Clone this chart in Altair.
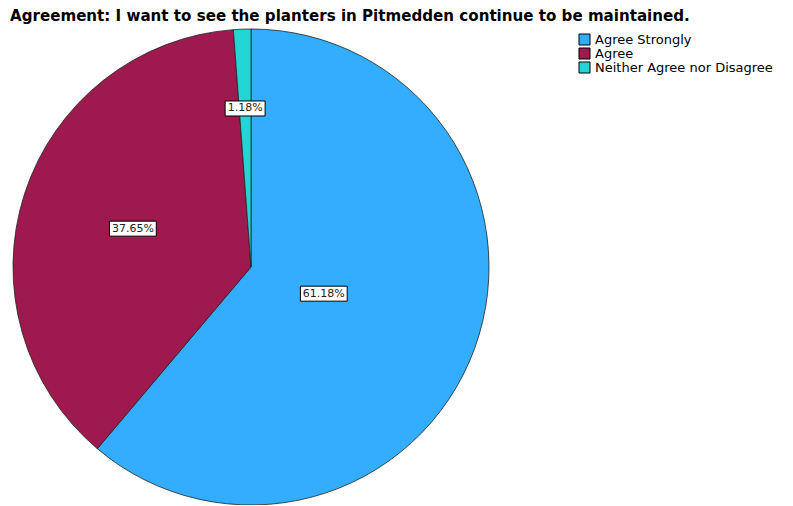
import altair as alt
import pandas as pd
import numpy as np

# ---- data ----
categories = ["Agree Strongly", "Agree", "Neither Agree nor Disagree"]
percents = [61.18, 37.65, 1.18]
labels = ["61.18%", "37.65%", "1.18%"]
colors = ["#33adff", "#9e194d", "#23d5d5"]
title_text = "Agreement: I want to see the planters in Pitmedden continue to be maintained."

# ---- layout constants ----
W, H = 777, 497
CX, CY, R = 243, 259, 238
FONT = "DejaVu Sans"

df = pd.DataFrame({"category": categories, "pct": percents, "label": labels,
                   "order": list(range(len(categories)))})
total = df["pct"].sum()
cum = df["pct"].cumsum()
mid = 2 * np.pi * (cum - df["pct"] / 2) / total
half = np.pi * df["pct"] / total
rr = 2.0 / 3.0 * R * np.sin(half) / half  # sector centroid distance
df["lx"] = CX + rr * np.sin(mid)
df["ly"] = CY - rr * np.cos(mid)
hw = df["label"].str.len() * 3.4 + 3
df["bx1"] = df["lx"] - hw
df["bx2"] = df["lx"] + hw
df["by1"] = df["ly"] - 7.5
df["by2"] = df["ly"] + 7.5

xs = alt.Scale(domain=[0, W], range=[0, W], nice=False, zero=False)
ys = alt.Scale(domain=[0, H], range=[0, H], nice=False, zero=False)

base = alt.Chart(df)

pie = base.mark_arc(outerRadius=R, stroke="#222222", strokeWidth=0.8).encode(
    theta=alt.Theta("pct:Q", stack=True),
    color=alt.Color(
        "category:N",
        scale=alt.Scale(domain=categories, range=colors),
        sort=categories,
        legend=alt.Legend(
            title=None, orient="none", legendX=570, legendY=25,
            symbolType="square", symbolSize=121, symbolStrokeColor="#000000",
            symbolStrokeWidth=1, symbolOpacity=1,
            labelFont=FONT, labelFontSize=13, labelColor="#000000",
            labelLimit=400, rowPadding=-2.5, labelOffset=4,
        ),
    ),
    order=alt.Order("order:Q"),
    x=alt.value(CX),
    y=alt.value(CY),
)

boxes = base.mark_rect(fill="white", stroke="black", strokeWidth=1).encode(
    x=alt.X("bx1:Q", scale=xs, axis=None),
    x2="bx2:Q",
    y=alt.Y("by1:Q", scale=ys, axis=None),
    y2="by2:Q",
)

texts = base.mark_text(font=FONT, fontSize=11, color="#222222", align="center",
                       baseline="middle").encode(
    x=alt.X("lx:Q", scale=xs, axis=None),
    y=alt.Y("ly:Q", scale=ys, axis=None),
    text="label:N",
)

title = alt.Chart(pd.DataFrame({"t": [title_text]})).mark_text(
    align="left", baseline="alphabetic", font=FONT, fontWeight="bold",
    fontSize=15.1, color="#000000"
).encode(x=alt.value(2), y=alt.value(13), text="t:N")

chart = alt.layer(pie, boxes, texts, title).properties(
    width=W, height=H, autosize=alt.AutoSizeParams(type="none"), padding=0
).configure_view(stroke=None)

chart.save("out.html", embed_options={"renderer": "svg", "actions": False})
